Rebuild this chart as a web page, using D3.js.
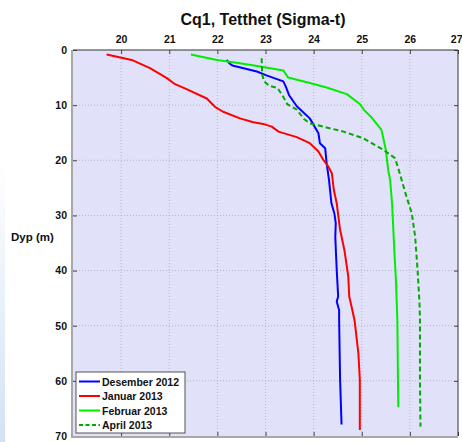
<!DOCTYPE html>
<html>
<head>
<meta charset="utf-8">
<script src="https://cdn.jsdelivr.net/npm/d3@7"></script>
<style>
html,body{margin:0;padding:0;background:#fff;}
svg{display:block;font-family:"Liberation Sans",Arial,sans-serif;}
</style>
</head>
<body>
<svg id="chart" width="462" height="442"></svg>
<script>
// ---- data (sigma-t vs depth) ----
const xTicks = [20, 21, 22, 23, 24, 25, 26, 27];
const yTicks = [0, 10, 20, 30, 40, 50, 60, 70];
const seriesNames = ["Desember 2012", "Januar 2013", "Februar 2013", "April 2013"];
const seriesColors = ["#0000ff", "#ff0000", "#00ee00", "#00aa00"];
const seriesDashed = [false, false, false, true];

const desemberSigma = [22.19, 22.26, 22.31, 22.82, 23.02, 23.37, 23.42, 23.49, 23.65, 23.92, 24.10, 24.13, 24.24, 24.27, 24.32, 24.37, 24.43, 24.46, 24.45, 24.48, 24.51, 24.48, 24.53, 24.53, 24.55, 24.58];
const desemberDepth = [1.8, 2.5, 2.8, 3.9, 4.6, 5.7, 6.6, 8.2, 10.2, 12.4, 15.1, 16.9, 17.8, 20.5, 23.6, 27.8, 29.6, 31.4, 33.9, 39.9, 44.7, 45.6, 47.2, 49.0, 59.8, 67.9];

const januarSigma = [19.70, 20.22, 20.60, 20.95, 21.12, 21.36, 21.78, 21.95, 22.12, 22.47, 22.75, 22.95, 23.13, 23.27, 23.65, 23.92, 24.10, 24.20, 24.31, 24.38, 24.42, 24.48, 24.55, 24.64, 24.72, 24.74, 24.79, 24.85, 24.93, 24.96, 24.96];
const januarDepth = [0.8, 1.8, 3.3, 5.1, 6.2, 7.1, 8.8, 10.3, 11.2, 12.4, 13.1, 13.4, 13.9, 14.8, 15.8, 16.9, 18.4, 19.9, 21.2, 22.4, 25.4, 27.8, 32.6, 36.3, 41.1, 44.7, 46.6, 49.0, 55.0, 59.8, 68.9];

const februarSigma = [21.45, 21.99, 22.47, 22.89, 23.37, 23.47, 23.92, 24.27, 24.69, 24.96, 25.05, 25.19, 25.41, 25.50, 25.55, 25.59, 25.63, 25.68, 25.71, 25.74, 25.75, 25.76];
const februarDepth = [0.8, 1.8, 2.4, 3.0, 3.7, 5.0, 6.0, 6.8, 8.0, 9.8, 10.9, 12.1, 14.5, 18.1, 21.8, 23.6, 27.8, 36.9, 41.7, 49.0, 58.0, 64.8];

const aprilSigma = [22.92, 22.93, 22.97, 23.08, 23.25, 23.37, 23.45, 23.65, 23.80, 23.92, 24.06, 24.62, 25.03, 25.45, 25.69, 25.76, 25.83, 25.93, 26.04, 26.11, 26.16, 26.20, 26.21, 26.21, 26.22];
const aprilDepth = [1.5, 4.4, 5.7, 6.5, 6.9, 8.5, 9.8, 10.8, 12.5, 13.3, 13.6, 14.8, 16.0, 18.1, 19.6, 21.5, 23.6, 26.6, 29.6, 33.9, 39.9, 45.9, 49.0, 59.8, 68.3];

const sigmaSeries = [desemberSigma, januarSigma, februarSigma, aprilSigma];
const depthSeries = [desemberDepth, januarDepth, februarDepth, aprilDepth];

// ---- layout ----
const svg = d3.select("#chart");
const L = 73, R = 458, T = 50, B = 436;
const x = d3.scaleLinear().domain([19, 27]).range([L, R]);
const y = d3.scaleLinear().domain([0, 70]).range([T, B]);

// faint left-edge band
const defs = svg.append("defs");
const gr = defs.append("linearGradient").attr("id", "edge").attr("x1", 0).attr("y1", 0).attr("x2", 0).attr("y2", 1);
gr.append("stop").attr("offset", "0").attr("stop-color", "#ffffff");
gr.append("stop").attr("offset", "1").attr("stop-color", "#d2e2f4");
svg.append("rect").attr("x", 0).attr("y", 160).attr("width", 5).attr("height", 282).attr("fill", "url(#edge)");

// plot background
svg.append("rect").attr("x", L).attr("y", T).attr("width", R - L).attr("height", B - T).attr("fill", "#e1e1f9");

// grid
const grid = svg.append("g").attr("stroke", "#a8a8c0").attr("stroke-width", 0.8).attr("stroke-dasharray", "1,2");
grid.selectAll(".gx").data(xTicks.filter(v => v < 27)).enter().append("line")
  .attr("x1", d => x(d)).attr("x2", d => x(d)).attr("y1", T).attr("y2", B);
grid.selectAll(".gy").data(yTicks.filter(v => v > 0 && v < 70)).enter().append("line")
  .attr("y1", d => y(d)).attr("y2", d => y(d)).attr("x1", L).attr("x2", R);

// axes
const xAxis = d3.axisTop(x).tickValues(xTicks).tickSize(-4).tickPadding(7).tickFormat(d3.format("d"));
const yAxis = d3.axisLeft(y).tickValues(yTicks).tickSize(-4).tickPadding(6).tickFormat(d3.format("d"));
const gx = svg.append("g").attr("transform", `translate(0,${T})`).call(xAxis);
const gy = svg.append("g").attr("transform", `translate(${L},0)`).call(yAxis);
[gx, gy].forEach(g => {
  g.select(".domain").remove();
  g.selectAll("line").attr("stroke", "#444");
  g.selectAll("text").attr("font-size", "10.5px").attr("font-weight", "bold").attr("fill", "#111")
    .attr("font-family", "'Liberation Sans',Arial,sans-serif");
});
// keep the last top label inside the window
gx.selectAll(".tick").filter(d => d === 27).select("text").attr("text-anchor", "end").attr("x", 4);
// bottom and right ticks (inward)
const gx2 = svg.append("g").attr("transform", `translate(0,${B})`).call(d3.axisBottom(x).tickValues(xTicks).tickSize(-4).tickFormat(""));
const gy2 = svg.append("g").attr("transform", `translate(${R},0)`).call(d3.axisRight(y).tickValues(yTicks).tickSize(-4).tickFormat(""));
[gx2, gy2].forEach(g => { g.select(".domain").remove(); g.selectAll("line").attr("stroke", "#444"); });

// box
svg.append("line").attr("x1", L).attr("x2", R).attr("y1", T).attr("y2", T).attr("stroke", "#333").attr("stroke-width", 1);
svg.append("line").attr("x1", R).attr("x2", R).attr("y1", T).attr("y2", B).attr("stroke", "#333").attr("stroke-width", 1);
svg.append("line").attr("x1", L - 1).attr("x2", L - 1).attr("y1", T).attr("y2", B + 1).attr("stroke", "#a8a8a8").attr("stroke-width", 2);
svg.append("line").attr("x1", L - 2).attr("x2", R).attr("y1", B + 1).attr("y2", B + 1).attr("stroke", "#a8a8a8").attr("stroke-width", 2);

// lines
const line = d3.line().x(d => x(d[0])).y(d => y(d[1]));
sigmaSeries.forEach((s, i) => {
  const pts = s.map((v, k) => [v, depthSeries[i][k]]);
  svg.append("path").datum(pts).attr("d", line).attr("fill", "none")
    .attr("stroke", seriesColors[i]).attr("stroke-width", 2)
    .attr("stroke-linejoin", "round")
    .attr("stroke-dasharray", seriesDashed[i] ? "5,3" : null);
});

// title
svg.append("text").attr("x", 263).attr("y", 25).attr("text-anchor", "middle")
  .attr("font-size", "16px").attr("font-weight", "bold").attr("fill", "#111").text("Cq1, Tetthet (Sigma-t)");

// y label
svg.append("text").attr("x", 11).attr("y", 241).attr("font-size", "11.5px").attr("font-weight", "bold")
  .attr("fill", "#111").text("Dyp (m)");

// legend
const lg = svg.append("g");
lg.append("rect").attr("x", 76).attr("y", 372).attr("width", 109).attr("height", 61)
  .attr("fill", "#ffffff").attr("stroke", "#555").attr("stroke-width", 1);
seriesNames.forEach((n, i) => {
  const cy = 381.5 + i * 14.5;
  lg.append("line").attr("x1", 79).attr("x2", 100).attr("y1", cy).attr("y2", cy)
    .attr("stroke", seriesColors[i]).attr("stroke-width", 2)
    .attr("stroke-dasharray", seriesDashed[i] ? "4,2.5" : null);
  lg.append("text").attr("x", 102).attr("y", cy + 4).attr("font-size", "10.5px").attr("font-weight", "bold")
    .attr("fill", "#111").text(n);
});
</script>
</body>
</html>
